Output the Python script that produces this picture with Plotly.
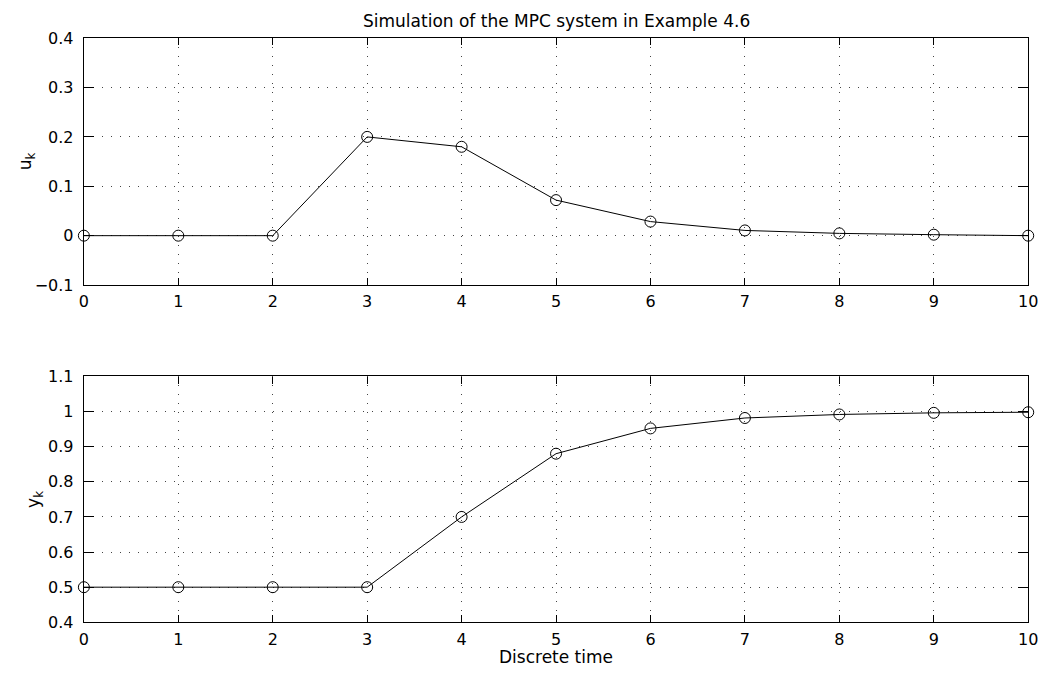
import plotly.graph_objects as go

# Discrete-time samples
k = [0, 1, 2, 3, 4, 5, 6, 7, 8, 9, 10]
# Control input u_k
u = [0.0, 0.0, 0.0, 0.2, 0.18, 0.072, 0.0285, 0.0106, 0.0046, 0.002, 0.0]
# Plant output y_k
y = [0.5, 0.5, 0.5, 0.5, 0.7, 0.88, 0.952, 0.9816, 0.9917, 0.9963, 0.998]

x_ticks = list(range(0, 11))
u_ticks = [-0.1, 0.0, 0.1, 0.2, 0.3, 0.4]
y_ticks = [0.4, 0.5, 0.6, 0.7, 0.8, 0.9, 1.0, 1.1]

FONT = "DejaVu Sans, Liberation Sans, Arial, sans-serif"
FS = 16
W, H = 1053, 678

fig = go.Figure()

line_style = dict(color="black", width=1)
marker_style = dict(symbol="circle-open", size=11, color="black", line=dict(width=1, color="black"))

fig.add_trace(go.Scatter(x=k, y=u, mode="lines+markers", line=line_style,
                         marker=marker_style, xaxis="x", yaxis="y", cliponaxis=False,
                         showlegend=False))
fig.add_trace(go.Scatter(x=k, y=y, mode="lines+markers", line=line_style,
                         marker=marker_style, xaxis="x2", yaxis="y2", cliponaxis=False,
                         showlegend=False))

x0, x1 = 80 / W, 1038 / W
top_dom = [1 - 284 / H, 1 - 30 / H]
bot_dom = [1 - 631 / H, 1 - 378 / H]

common_axis = dict(
    showline=True, linecolor="black", linewidth=1.2, mirror="allticks",
    ticks="inside", tickcolor="black", tickwidth=1,
    showgrid=True, gridcolor="#444444", gridwidth=1, griddash="1px,8px",
    zeroline=False, tickfont=dict(family=FONT, size=FS, color="black"),
)
x_axis = dict(common_axis, domain=[x0, x1], range=[0, 10], tickvals=x_ticks,
              ticklen=7, ticklabelstandoff=2)

fig.update_layout(
    width=W, height=H,
    margin=dict(l=0, r=0, t=0, b=0),
    paper_bgcolor="white", plot_bgcolor="white",
    font=dict(family=FONT, color="black"),
    xaxis=dict(x_axis, anchor="y"),
    yaxis=dict(common_axis, domain=top_dom, anchor="x", range=[-0.1, 0.4],
               tickvals=u_ticks, ticklen=10, ticklabelstandoff=6),
    xaxis2=dict(x_axis, anchor="y2"),
    yaxis2=dict(common_axis, domain=bot_dom, anchor="x2", range=[0.4, 1.1],
                tickvals=y_ticks, ticklen=10, ticklabelstandoff=6),
    annotations=[
        dict(text="Simulation of the MPC system in Example 4.6", xref="paper", yref="paper",
             x=(x0 + x1) / 2, y=1 - 12 / H, xanchor="center", yanchor="middle",
             showarrow=False, font=dict(family=FONT, size=17)),
        dict(text="Discrete time", xref="paper", yref="paper",
             x=(x0 + x1) / 2, y=1 - 667 / H, xanchor="center", yanchor="middle",
             showarrow=False, font=dict(family=FONT, size=17)),
        dict(text="u<sub>k</sub>", xref="paper", yref="paper",
             x=22 / W, y=sum(top_dom) / 2, xanchor="center", yanchor="middle",
             textangle=-90, showarrow=False, font=dict(family=FONT, size=17)),
        dict(text="y<sub>k</sub>", xref="paper", yref="paper",
             x=30 / W, y=sum(bot_dom) / 2, xanchor="center", yanchor="middle",
             textangle=-90, showarrow=False, font=dict(family=FONT, size=17)),
    ],
)

fig.write_html("out.html")
